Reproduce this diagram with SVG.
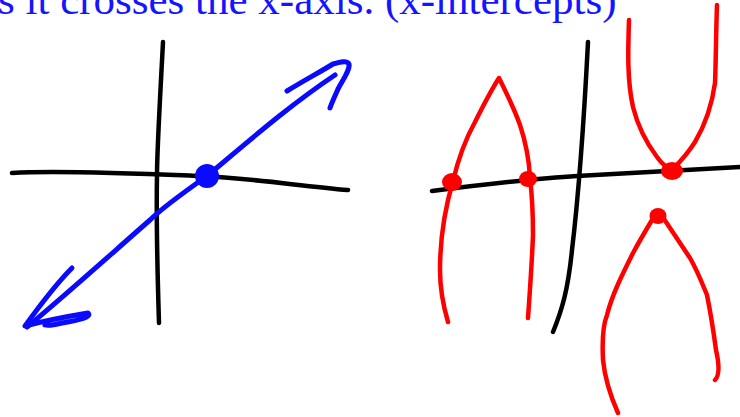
<svg xmlns="http://www.w3.org/2000/svg" width="740" height="417" viewBox="0 0 740 417">
<style>
.ink{fill:none;stroke-linecap:round;stroke-linejoin:round;stroke-width:4.5}
.k{stroke:#000}
.b{stroke:#0a0aff;stroke-width:5}
.r{stroke:#ff0000}
.title{font-family:"Liberation Serif","Times New Roman",serif;font-size:43px;fill:#1414ff}
</style>
<rect width="740" height="417" fill="#fff"/>
<text class="title" x="-2" y="14">s it crosses the x-axis. (x-intercepts)</text>
<g id="left-graph">
<path class="ink k" d="M163,42 C160,100 157,150 157,175 C156,230 158,290 159,323"/>
<path class="ink k" d="M12,173 C60,170 150,174 200,176 C250,178 300,186 348,190"/>
<path class="ink b" d="M335,75 C290,105 250,140 207,176 C180,195 160,210 150,220 C110,255 60,300 27,327"/>
<path class="ink b" d="M287,91 C305,80 320,72 333,64 C340,62 347,60 349,64 C350,70 344,78 338,89 C335,96 332,102 330,108"/>
<path class="ink b" d="M72,268 C55,285 38,308 25,326 C40,322 70,316 88,313 C92,317 80,320 62,323 C54,325 48,326 45,325"/>
<ellipse cx="207" cy="176" rx="12" ry="12" fill="#0a0aff"/>
</g>
<g id="right-graph">
<path class="ink k" d="M588,42 C584,120 578,200 572,250 C568,290 562,310 553,332"/>
<path class="ink k" d="M432,191 C480,185 540,178 577,176 C630,173 690,170 740,167"/>
<path class="ink r" d="M448,322 C443,305 440,290 440,270 C440,245 443,215 453,181 C458,160 465,140 475,122 C483,106 490,92 499,78 C506,92 514,108 520,125 C526,143 529,160 530,177 C532,195 533,215 533,235 C532,260 530,290 528,318"/>
<path class="ink r" d="M629,20 C628,50 627,80 633,107 C638,127 648,145 657,157 C662,164 667,168 672,170 C680,162 688,153 695,142 C705,125 712,105 715,83 C716,60 716,30 717,5"/>
<path class="ink r" d="M618,413 C610,395 605,380 603,360 C602,340 603,325 607,315 C612,295 622,275 633,253 C640,240 646,230 652,220 C656,215 660,215 664,219 C670,228 678,240 690,258 C698,272 702,283 707,295 C711,315 714,335 716,350 C719,363 720,375 715,380"/>
<ellipse cx="452" cy="182" rx="10" ry="9" fill="#ff0000"/>
<ellipse cx="528" cy="179" rx="9" ry="8" fill="#ff0000"/>
<ellipse cx="672" cy="171" rx="11" ry="9" fill="#ff0000"/>
<ellipse cx="658" cy="216" rx="8.5" ry="8" fill="#ff0000"/>
</g>
</svg>
